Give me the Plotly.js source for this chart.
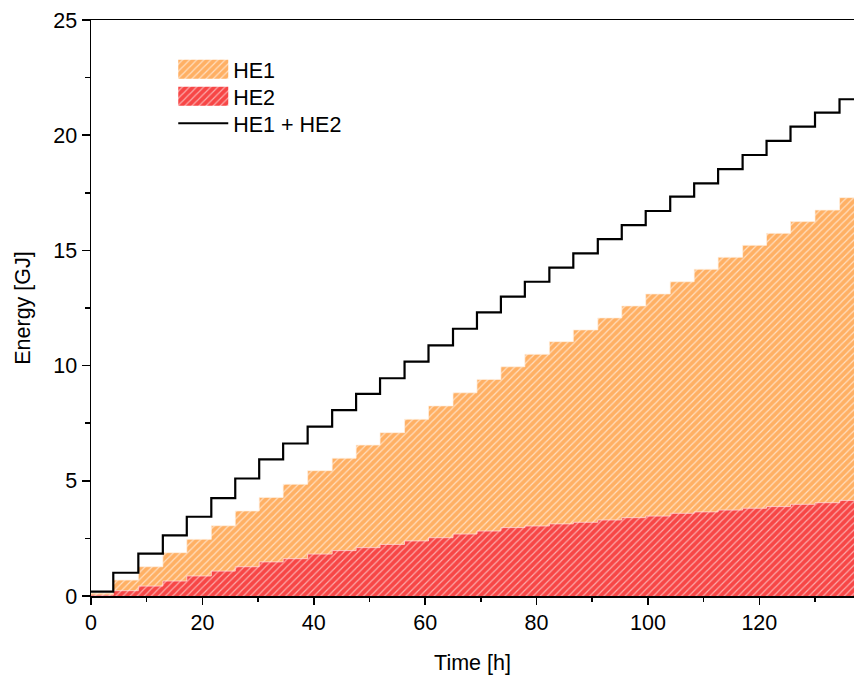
<!DOCTYPE html>
<html>
<head>
<meta charset="utf-8">
<script src="https://cdn.plot.ly/plotly-3.0.1.min.js"></script>
<style>
  html, body { margin: 0; padding: 0; background: #fff; }
  #chart { width: 854px; height: 679px; }
</style>
</head>
<body>
<div id="chart"></div>
<script>
// Time [h] at which each step begins (last entry = end of plotted range)
const timeH = [0, 4.0, 8.5, 12.9, 17.2, 21.6, 25.9, 30.2, 34.5, 38.9, 43.3, 47.6, 51.9, 56.3, 60.6, 65.0, 69.3, 73.6, 77.9, 82.3, 86.6, 91.0, 95.3, 99.6, 104.0, 108.3, 112.6, 117.0, 121.3, 125.6, 130.0, 134.4, 137];

// Energy [GJ] of heat exchanger 1
const he1 = [0.12, 0.69, 1.27, 1.88, 2.46, 3.05, 3.69, 4.28, 4.85, 5.44, 5.98, 6.55, 7.09, 7.67, 8.25, 8.82, 9.40, 9.95, 10.49, 11.04, 11.55, 12.07, 12.59, 13.11, 13.64, 14.18, 14.70, 15.22, 15.74, 16.25, 16.75, 17.29, 17.29];

// Energy [GJ] of heat exchanger 2
const he2 = [0.04, 0.23, 0.43, 0.65, 0.87, 1.08, 1.27, 1.48, 1.62, 1.82, 1.97, 2.10, 2.24, 2.39, 2.53, 2.69, 2.82, 2.97, 3.04, 3.13, 3.20, 3.30, 3.40, 3.47, 3.59, 3.65, 3.73, 3.81, 3.88, 3.98, 4.05, 4.15, 4.15];

// Energy [GJ] of HE1 + HE2 (black line)
const total = [0.19, 1.01, 1.84, 2.63, 3.44, 4.25, 5.10, 5.93, 6.62, 7.35, 8.07, 8.77, 9.45, 10.17, 10.88, 11.60, 12.31, 12.99, 13.64, 14.25, 14.87, 15.49, 16.10, 16.71, 17.33, 17.91, 18.53, 19.14, 19.75, 20.37, 20.98, 21.56, 21.56];

const seriesNames = ['HE1', 'HE2', 'HE1 + HE2'];
const xTitle = 'Time [h]';
const yTitle = 'Energy [GJ]';

const FONT = 'Liberation Sans, Arial, sans-serif';
const FS = 21.5;

const traces = [
  {
    x: timeH, y: he1, name: seriesNames[0], type: 'scatter', mode: 'lines',
    line: { shape: 'hv', color: 'rgba(255,240,225,0.9)', width: 0.8 },
    fill: 'tozeroy', fillcolor: '#FFB064',
    fillpattern: { shape: '/', bgcolor: '#FFB064', fgcolor: '#FFFFFF', fgopacity: 0.6, size: 5, solidity: 0.24 },
    hoverinfo: 'skip'
  },
  {
    x: timeH, y: he2, name: seriesNames[1], type: 'scatter', mode: 'lines',
    line: { shape: 'hv', color: 'rgba(255,225,225,0.95)', width: 0.8 },
    fill: 'tozeroy', fillcolor: '#F74646',
    fillpattern: { shape: '/', bgcolor: '#F74646', fgcolor: '#FFFFFF', fgopacity: 0.55, size: 5, solidity: 0.24 },
    hoverinfo: 'skip'
  },
  {
    x: timeH, y: total, name: seriesNames[2], type: 'scatter', mode: 'lines',
    line: { shape: 'hv', color: '#000000', width: 2.2 },
    hoverinfo: 'skip'
  }
];

const layout = {
  width: 854, height: 679,
  margin: { l: 91, r: 0, t: 20, b: 83 },
  paper_bgcolor: '#ffffff', plot_bgcolor: '#ffffff',
  font: { family: FONT, size: FS, color: '#000' },
  showlegend: true,
  legend: {
    x: 0.1078, y: 0.950, xanchor: 'left', yanchor: 'top',
    bgcolor: 'rgba(0,0,0,0)', borderwidth: 0,
    font: { family: FONT, size: FS, color: '#000' },
    tracegroupgap: 0, itemwidth: 50
  },
  xaxis: {
    range: [0, 137], autorange: false,
    title: { text: xTitle, font: { family: FONT, size: FS }, standoff: 20 },
    tickmode: 'linear', tick0: 0, dtick: 20,
    ticks: 'outside', ticklen: 7, tickwidth: 1.5, tickcolor: '#000',
    minor: { dtick: 10, ticks: 'outside', ticklen: 4, tickwidth: 1.5, tickcolor: '#000' },
    showline: true, linecolor: '#000', linewidth: 1.5, mirror: true,
    showgrid: false, zeroline: false,
    tickfont: { family: FONT, size: FS, color: '#000' }
  },
  yaxis: {
    range: [0, 25], autorange: false,
    title: { text: yTitle, font: { family: FONT, size: FS }, standoff: 17 },
    tickmode: 'linear', tick0: 0, dtick: 5,
    ticks: 'outside', ticklen: 8, tickwidth: 1.5, tickcolor: '#000',
    minor: { dtick: 2.5, ticks: 'outside', ticklen: 5, tickwidth: 1.5, tickcolor: '#000' },
    showline: true, linecolor: '#000', linewidth: 1.5, mirror: false,
    showgrid: false, zeroline: false,
    tickfont: { family: FONT, size: FS, color: '#000' }
  }
};

Plotly.newPlot('chart', traces, layout, { displayModeBar: false, staticPlot: true }).then(function (gd) {
  // Legend: draw the area symbols as tall hatched blocks and tighten row spacing
  const items = gd.querySelectorAll('.legend .traces');
  let baseX = null, baseY = null;
  items.forEach(function (g, i) {
    const m = /translate\(([-\d.]+),\s*([-\d.]+)\)/.exec(g.getAttribute('transform') || '');
    if (m) {
      if (baseY === null) { baseX = parseFloat(m[1]); baseY = parseFloat(m[2]); }
      g.setAttribute('transform', 'translate(' + baseX + ',' + (baseY + i * 27) + ')');
    }
    const fill = g.querySelector('.legendfill path');
    if (fill) {
      fill.setAttribute('d', 'M5,-9.5h50v19h-50z');
      const ln = g.querySelector('.legendlines');
      if (ln) ln.style.display = 'none';
    }
  });
});
</script>
</body>
</html>
